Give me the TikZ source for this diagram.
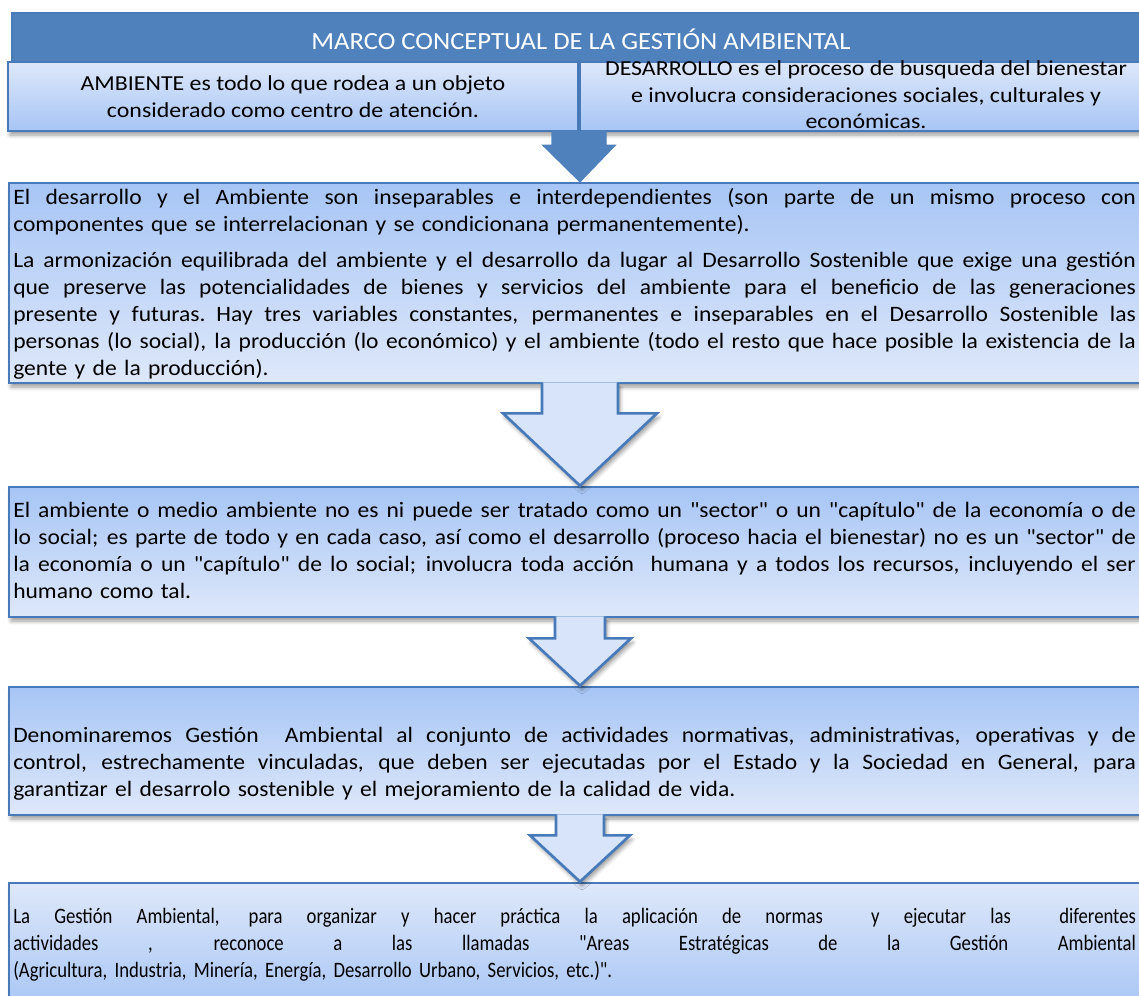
\documentclass[tikz,border=0pt]{standalone}
\usepackage{fontspec}
\setmainfont{Carlito}
\newfontfamily\bodyfont[FakeStretch=1.07]{Carlito}
\newfontfamily\topfont[FakeStretch=1.12]{Carlito}
\newfontfamily\titlefont[FakeStretch=1.08]{Carlito}
\newfontfamily\narrowfont[FakeStretch=0.85]{Carlito}
\usetikzlibrary{shadows, shadows.blur, calc, fit, positioning}

\definecolor{headblue}{RGB}{79,129,189}
\definecolor{edgeblue}{RGB}{72,122,186}
\definecolor{paleblue}{RGB}{222,232,250}
\definecolor{midblue}{RGB}{167,197,245}
\definecolor{arrowblue}{RGB}{215,228,250}

% one justified line / one plain line of a box text
\newcommand{\jline}[1]{\hbox to 842pt{\spaceskip=\fontdimen2\font plus 1fil\relax #1}}
\newcommand{\plainline}[1]{\hbox{#1}}

\tikzset{
  headbar/.style={fill=headblue, draw=edgeblue, line width=1pt, inner sep=0pt},
  panel/.style={draw=edgeblue, line width=2pt, inner sep=0pt,
    blur shadow={shadow xshift=1.5pt, shadow yshift=-3pt, shadow blur radius=3pt, shadow opacity=40}},
  fadedown/.style={top color=paleblue, bottom color=midblue},
  fadeup/.style={top color=midblue, bottom color=paleblue},
  pointer/.style={draw=edgeblue, line width=2pt, fill=arrowblue, line join=miter,
    blur shadow={shadow xshift=1.5pt, shadow yshift=-3pt, shadow blur radius=3pt, shadow opacity=40}},
  darkpointer/.style={draw=headblue, fill=headblue, line width=1pt},
  titletext/.style={text=white, inner sep=0pt, font=\titlefont\fontsize{18.5pt}{21pt}\selectfont},
  toptext/.style={align=center, inner sep=0pt, font=\topfont\fontsize{16pt}{20pt}\selectfont},
  bodytext/.style={anchor=north west, inner sep=0pt, text width=842pt,
    font=\bodyfont\fontsize{16.5pt}{20.2pt}\selectfont},
  areastext/.style={anchor=north west, inner sep=0pt, text width=842pt,
    font=\narrowfont\fontsize{16.5pt}{20.2pt}\selectfont}
}

\begin{document}
\begin{tikzpicture}[x=0.75pt, y=-0.75pt]
  \useasboundingbox (0,0) rectangle (1139,996);

  % cabecera y conceptos
  \node[headbar, fit={(12,13) (1151,62)}] (head) {};
  \node[titletext] (title) at (581,39) {MARCO CONCEPTUAL DE LA GESTIÓN AMBIENTAL};
  \node[panel, fadedown, fit={(8,62) (578,131)}] (amb) {};
  \node[panel, fadedown, fit={(580,62) (1151,131)}] (des) {};

  % cajas
  \node[panel, fadeup, fit={(9,183) (1151,383)}] (rel) {};
  \node[panel, fadeup, fit={(9,487) (1151,617)}] (sect) {};
  \node[panel, fadeup, fit={(9,687) (1151,815)}] (gest) {};
  \node[panel, fadedown, fit={(9,883) (1151,1010)}] (areas) {};

  % flechas
  \coordinate (join) at ($(amb.south east)!0.5!(des.south west)+(0,-2)$);
  \draw[darkpointer] ($(join)+(-27,0)$) |- ($(join)+(-36,15)$) -- (rel.north)
    -- ($(join)+(36,15)$) -| ($(join)+(27,0)$);
  \draw[pointer] ($(rel.south)+(-38,-2)$) |- ($(rel.south)+(-77,29)$) -- (sect.north)
    -- ($(rel.south)+(77,29)$) -| ($(rel.south)+(38,-2)$);
  \draw[pointer] ($(sect.south)+(-25,-2)$) |- ($(sect.south)+(-51,20)$) -- (gest.north)
    -- ($(sect.south)+(51,20)$) -| ($(sect.south)+(25,-2)$);
  \draw[pointer] ($(gest.south)+(-24,-2)$) |- ($(gest.south)+(-50,19)$) -- (areas.north)
    -- ($(gest.south)+(50,19)$) -| ($(gest.south)+(24,-2)$);

  % textos
  \node[toptext] (ambtext) at (293,97) {AMBIENTE es todo lo que rodea a un objeto\\considerado como centro de atención.};
  \node[toptext] (destext) at (866,95) {DESARROLLO es el proceso de busqueda del bienestar\\e involucra consideraciones sociales, culturales y\\económicas.};

  \node[bodytext] (reltext) at (13,188) {%
    \jline{El desarrollo y el Ambiente son inseparables e interdependientes (son parte de un mismo proceso con}
    \plainline{componentes que se interrelacionan y se condicionana permanentemente).}
    \vskip7pt
    \jline{La armonización equilibrada del ambiente y el desarrollo da lugar al Desarrollo Sostenible que exige una gestión}
    \jline{que preserve las potencialidades de bienes y servicios del ambiente para el beneficio de las generaciones}
    \jline{presente y futuras. Hay tres variables constantes, permanentes e inseparables en el Desarrollo Sostenible las}
    \jline{personas (lo social), la producción (lo económico) y el ambiente (todo el resto que hace posible la existencia de la}
    \plainline{gente y de la producción).}};

  \node[bodytext] (secttext) at (13,502) {%
    \jline{El ambiente o medio ambiente no es ni puede ser tratado como un "sector" o un "capítulo" de la economía o de}
    \jline{lo social; es parte de todo y en cada caso, así como el desarrollo (proceso hacia el bienestar) no es un "sector" de}
    \jline{la economía o un "capítulo" de lo social; involucra toda acción\ \ humana y a todos los recursos, incluyendo el ser}
    \plainline{humano como tal.}};

  \node[bodytext] (gesttext) at (13,727) {%
    \jline{Denominaremos Gestión\ \ Ambiental al conjunto de actividades normativas, administrativas, operativas y de}
    \jline{control, estrechamente vinculadas, que deben ser ejecutadas por el Estado y la Sociedad en General, para}
    \plainline{garantizar el desarrolo sostenible y el mejoramiento de la calidad de vida.}};

  \node[areastext] (areastext) at (13,908) {%
    \jline{La Gestión Ambiental, para organizar y hacer práctica la aplicación de normas\ \ y ejecutar las\ \ diferentes}
    \jline{actividades , reconoce a las llamadas "Areas Estratégicas de la Gestión Ambiental}
    \plainline{(Agricultura, Industria, Minería, Energía, Desarrollo Urbano, Servicios, etc.)".}};
\end{tikzpicture}
\end{document}
